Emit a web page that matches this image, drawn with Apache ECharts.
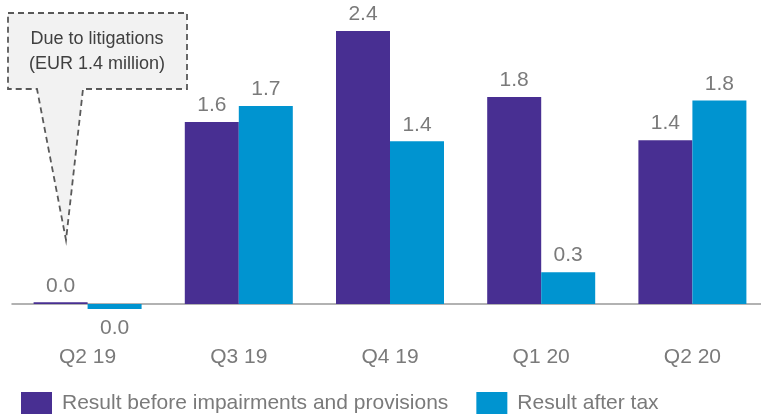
<!DOCTYPE html>
<html lang="en">

<head>
    <meta charset="UTF-8">
    <title>Results by quarter</title>
    <script src="https://cdn.jsdelivr.net/npm/echarts@6/dist/echarts.min.js"></script>
    <style>
        html, body { margin: 0; padding: 0; background: #fff; }
        #chart { width: 761px; height: 415px; }
    </style>
</head>

<body>
    <div id="chart"></div>
    <script>
        const quarters = ['Q2 19', 'Q3 19', 'Q4 19', 'Q1 20', 'Q2 20'];
        const beforeImpairments = [0.015, 1.6, 2.4, 1.82, 1.44];
        const afterTax = [-0.045, 1.74, 1.43, 0.28, 1.79];
        const seriesNames = ['Result before impairments and provisions', 'Result after tax'];
        const calloutLines = ['Due to litigations', '(EUR 1.4 million)'];

        const grey = '#7a7a7a';
        const font = 'Arial, "Liberation Sans", sans-serif';

        function fmt(p) {
            return (Math.round(p.value * 10) / 10).toFixed(1);
        }

        // negative values get their label under the bar
        function withLabels(arr) {
            return arr.map(v => v < 0 ? { value: v, label: { position: 'bottom', distance: 9 } } : v);
        }

        const chart = echarts.init(document.getElementById('chart'));
        chart.setOption({
            animation: false,
            textStyle: { fontFamily: font },
            grid: { left: 12, width: 756, top: 8.25, bottom: 88.25, outerBoundsMode: 'none', containLabel: false },
            legend: {
                left: 21,
                top: 392,
                padding: 0,
                itemWidth: 31,
                itemHeight: 22,
                itemGap: 28,
                icon: 'rect',
                textStyle: { color: grey, fontSize: 21, fontFamily: font, padding: [0, 0, 0, 5] },
                data: seriesNames
            },
            xAxis: {
                type: 'category',
                data: quarters,
                axisLine: { onZero: true, lineStyle: { color: '#999', width: 1.5 } },
                axisTick: { show: false },
                axisLabel: { color: grey, fontSize: 21, margin: 20 },
                splitLine: { show: false }
            },
            yAxis: {
                type: 'value',
                min: -0.2,
                max: 2.6,
                show: false,
                splitLine: { show: false }
            },
            series: [
                {
                    name: seriesNames[0],
                    type: 'bar',
                    barWidth: 54,
                    barGap: 0,
                    itemStyle: { color: '#482f92' },
                    label: { show: true, position: 'top', color: grey, fontSize: 21, distance: 6, formatter: fmt },
                    data: withLabels(beforeImpairments)
                },
                {
                    name: seriesNames[1],
                    type: 'bar',
                    barWidth: 54,
                    barGap: 0,
                    itemStyle: { color: '#0094d0' },
                    label: { show: true, position: 'top', color: grey, fontSize: 21, distance: 6, formatter: fmt },
                    data: withLabels(afterTax)
                }
            ],
            graphic: {
                elements: [
                    {
                        type: 'polygon',
                        shape: {
                            points: [[8, 13], [187, 13], [187, 89], [83, 89], [66, 240], [37, 89], [8, 89]]
                        },
                        style: {
                            fill: '#f2f2f2',
                            stroke: '#595959',
                            lineWidth: 1.8,
                            lineDash: [6, 4]
                        },
                        z: 10
                    },
                    {
                        type: 'text',
                        x: 97,
                        y: 52,
                        style: {
                            text: calloutLines.join('\n'),
                            fill: '#404040',
                            font: '18px ' + font,
                            lineHeight: 25,
                            align: 'center',
                            verticalAlign: 'middle'
                        },
                        z: 11
                    }
                ]
            }
        });
    </script>
</body>

</html>
